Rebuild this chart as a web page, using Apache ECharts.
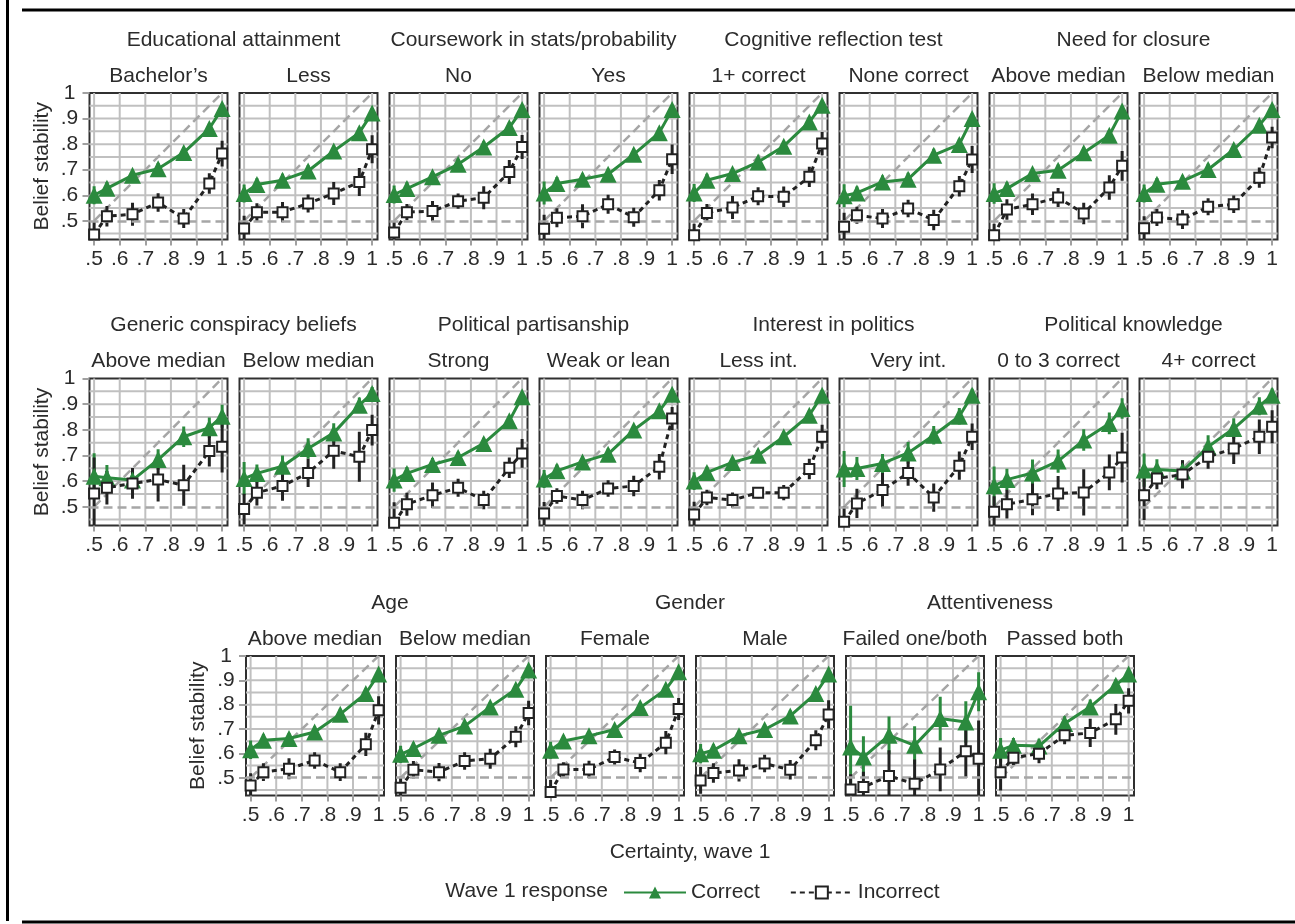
<!DOCTYPE html>
<html><head><meta charset="utf-8">
<script src="https://cdn.jsdelivr.net/npm/echarts@6.0.0/dist/echarts.min.js"></script>
<style>html,body{margin:0;padding:0;background:#fff}#c{width:1295px;height:924px}</style>
</head><body><div id="c"></div><script>
// ---------------- DATA ----------------
const certainty = [0.5, 0.55, 0.65, 0.75, 0.85, 0.95, 1];
const xTickValues = [0.5, 0.6, 0.7, 0.8, 0.9, 1];
const yTickValues = [0.5, 0.6, 0.7, 0.8, 0.9, 1];
const xGridValues = [0.5, 0.6, 0.7, 0.8, 0.9, 1];
const yGridValues = [0.45, 0.55, 0.6, 0.65, 0.7, 0.75, 0.8, 0.85, 0.9, 0.95];
const refDiagonal = [[0.5, 0.5], [1, 1]];
const chanceLevel = 0.5;

const groupTitlesRow1 = ["Educational attainment", "Coursework in stats/probability", "Cognitive reflection test", "Need for closure"];
const groupTitlesRow2 = ["Generic conspiracy beliefs", "Political partisanship", "Interest in politics", "Political knowledge"];
const groupTitlesRow3 = ["Age", "Gender", "Attentiveness"];
const panelLabels = ["Bachelor\u2019s", "Less", "No", "Yes", "1+ correct", "None correct", "Above median", "Below median",
  "Above median", "Below median", "Strong", "Weak or lean", "Less int.", "Very int.", "0 to 3 correct", "4+ correct",
  "Above median", "Below median", "Female", "Male", "Failed one/both", "Passed both"];

// C = correct mean, CE = correct CI half-width, I = incorrect mean, IE = incorrect CI half-width
const P01_C = [0.600, 0.627, 0.678, 0.704, 0.767, 0.861, 0.939];
const P01_CE = [0.035, 0.025, 0.022, 0.022, 0.022, 0.02, 0.015];
const P01_I = [0.447, 0.518, 0.526, 0.572, 0.509, 0.646, 0.763];
const P01_IE = [0.05, 0.04, 0.045, 0.036, 0.037, 0.04, 0.05];

const P02_C = [0.607, 0.642, 0.659, 0.695, 0.773, 0.845, 0.922];
const P02_CE = [0.035, 0.025, 0.025, 0.022, 0.022, 0.02, 0.018];
const P02_I = [0.470, 0.534, 0.534, 0.568, 0.607, 0.652, 0.780];
const P02_IE = [0.05, 0.035, 0.04, 0.035, 0.045, 0.055, 0.055];

const P03_C = [0.603, 0.626, 0.672, 0.721, 0.789, 0.865, 0.935];
const P03_CE = [0.035, 0.025, 0.022, 0.022, 0.022, 0.02, 0.016];
const P03_I = [0.454, 0.534, 0.538, 0.577, 0.590, 0.691, 0.789];
const P03_IE = [0.045, 0.032, 0.04, 0.03, 0.045, 0.047, 0.047];

const P04_C = [0.609, 0.646, 0.663, 0.682, 0.760, 0.845, 0.935];
const P04_CE = [0.045, 0.025, 0.022, 0.022, 0.022, 0.02, 0.016];
const P04_I = [0.469, 0.512, 0.518, 0.565, 0.514, 0.620, 0.741];
const P04_IE = [0.055, 0.037, 0.047, 0.037, 0.037, 0.04, 0.058];

const P05_C = [0.609, 0.659, 0.685, 0.730, 0.792, 0.887, 0.952];
const P05_CE = [0.035, 0.025, 0.022, 0.02, 0.02, 0.018, 0.014];
const P05_I = [0.444, 0.531, 0.552, 0.596, 0.594, 0.672, 0.802];
const P05_IE = [0.045, 0.035, 0.045, 0.035, 0.04, 0.04, 0.045];

const P06_C = [0.598, 0.609, 0.652, 0.663, 0.757, 0.799, 0.900];
const P06_CE = [0.045, 0.025, 0.025, 0.025, 0.025, 0.022, 0.02];
const P06_I = [0.477, 0.522, 0.509, 0.548, 0.503, 0.635, 0.740];
const P06_IE = [0.055, 0.033, 0.037, 0.034, 0.04, 0.04, 0.053];

const P07_C = [0.607, 0.626, 0.685, 0.698, 0.766, 0.835, 0.930];
const P07_CE = [0.04, 0.025, 0.022, 0.022, 0.022, 0.02, 0.016];
const P07_I = [0.444, 0.544, 0.565, 0.591, 0.529, 0.630, 0.715];
const P07_IE = [0.045, 0.04, 0.042, 0.037, 0.042, 0.048, 0.058];

const P08_C = [0.607, 0.643, 0.655, 0.701, 0.779, 0.874, 0.935];
const P08_CE = [0.035, 0.025, 0.022, 0.022, 0.02, 0.018, 0.015];
const P08_I = [0.471, 0.513, 0.505, 0.555, 0.565, 0.669, 0.826];
const P08_IE = [0.047, 0.033, 0.037, 0.033, 0.034, 0.04, 0.042];

const P09_C = [0.619, 0.613, 0.604, 0.684, 0.773, 0.808, 0.853];
const P09_CE = [0.09, 0.05, 0.045, 0.04, 0.04, 0.04, 0.045];
const P09_I = [0.552, 0.574, 0.591, 0.606, 0.584, 0.717, 0.734];
const P09_IE = [0.14, 0.065, 0.06, 0.085, 0.08, 0.06, 0.1];

const P10_C = [0.610, 0.630, 0.658, 0.727, 0.788, 0.896, 0.942];
const P10_CE = [0.065, 0.035, 0.042, 0.04, 0.038, 0.03, 0.025];
const P10_I = [0.491, 0.555, 0.581, 0.632, 0.718, 0.695, 0.799];
const P10_IE = [0.06, 0.05, 0.058, 0.055, 0.07, 0.097, 0.06];

const P11_C = [0.604, 0.630, 0.665, 0.692, 0.747, 0.835, 0.929];
const P11_CE = [0.045, 0.025, 0.025, 0.022, 0.022, 0.02, 0.016];
const P11_I = [0.438, 0.510, 0.545, 0.574, 0.526, 0.652, 0.708];
const P11_IE = [0.08, 0.045, 0.05, 0.035, 0.036, 0.04, 0.056];

const P12_C = [0.608, 0.640, 0.675, 0.705, 0.799, 0.874, 0.939];
const P12_CE = [0.035, 0.025, 0.022, 0.022, 0.02, 0.018, 0.015];
const P12_I = [0.474, 0.542, 0.526, 0.571, 0.581, 0.656, 0.844];
const P12_IE = [0.045, 0.03, 0.036, 0.032, 0.04, 0.05, 0.045];

const P13_C = [0.600, 0.634, 0.673, 0.701, 0.773, 0.857, 0.935];
const P13_CE = [0.035, 0.022, 0.02, 0.02, 0.02, 0.018, 0.014];
const P13_I = [0.470, 0.536, 0.526, 0.555, 0.555, 0.647, 0.773];
const P13_IE = [0.05, 0.03, 0.03, 0.022, 0.03, 0.04, 0.047];

const P14_C = [0.647, 0.649, 0.669, 0.710, 0.779, 0.853, 0.935];
const P14_CE = [0.07, 0.045, 0.037, 0.042, 0.036, 0.032, 0.025];
const P14_I = [0.442, 0.513, 0.565, 0.632, 0.536, 0.660, 0.773];
const P14_IE = [0.06, 0.057, 0.067, 0.05, 0.055, 0.055, 0.052];

const P15_C = [0.582, 0.606, 0.632, 0.678, 0.760, 0.825, 0.883];
const P15_CE = [0.075, 0.042, 0.052, 0.045, 0.042, 0.042, 0.04];
const P15_I = [0.481, 0.510, 0.529, 0.552, 0.556, 0.634, 0.692];
const P15_IE = [0.06, 0.056, 0.062, 0.068, 0.09, 0.07, 0.097];

const P16_C = [0.643, 0.645, 0.639, 0.734, 0.805, 0.892, 0.935];
const P16_CE = [0.065, 0.04, 0.042, 0.045, 0.04, 0.035, 0.026];
const P16_I = [0.545, 0.610, 0.626, 0.695, 0.727, 0.773, 0.812];
const P16_IE = [0.097, 0.042, 0.055, 0.047, 0.06, 0.067, 0.064];

const P17_C = [0.615, 0.654, 0.661, 0.688, 0.761, 0.846, 0.926];
const P17_CE = [0.038, 0.025, 0.022, 0.022, 0.022, 0.02, 0.016];
const P17_I = [0.468, 0.523, 0.537, 0.571, 0.523, 0.637, 0.777];
const P17_IE = [0.05, 0.036, 0.043, 0.034, 0.036, 0.048, 0.058];

const P18_C = [0.596, 0.620, 0.674, 0.712, 0.791, 0.863, 0.942];
const P18_CE = [0.035, 0.025, 0.022, 0.022, 0.02, 0.018, 0.015];
const P18_I = [0.459, 0.533, 0.523, 0.569, 0.578, 0.668, 0.766];
const P18_IE = [0.045, 0.036, 0.037, 0.036, 0.041, 0.043, 0.05];

const P19_C = [0.613, 0.651, 0.672, 0.698, 0.788, 0.863, 0.935];
const P19_CE = [0.035, 0.022, 0.02, 0.02, 0.02, 0.018, 0.014];
const P19_I = [0.441, 0.534, 0.534, 0.585, 0.560, 0.644, 0.782];
const P19_IE = [0.05, 0.03, 0.036, 0.031, 0.038, 0.048, 0.045];

const P20_C = [0.599, 0.613, 0.672, 0.698, 0.754, 0.846, 0.926];
const P20_CE = [0.04, 0.025, 0.022, 0.022, 0.022, 0.02, 0.016];
const P20_I = [0.489, 0.519, 0.530, 0.558, 0.533, 0.654, 0.760];
const P20_IE = [0.055, 0.04, 0.046, 0.036, 0.04, 0.041, 0.058];

const P21_C = [0.626, 0.585, 0.674, 0.633, 0.743, 0.729, 0.853];
const P21_CE = [0.17, 0.085, 0.078, 0.078, 0.09, 0.085, 0.08];
const P21_I = [0.452, 0.462, 0.507, 0.475, 0.534, 0.609, 0.578];
const P21_IE = [0.062, 0.063, 0.106, 0.1, 0.09, 0.11, 0.157];

const P22_C = [0.613, 0.633, 0.630, 0.723, 0.791, 0.880, 0.926];
const P22_CE = [0.05, 0.03, 0.03, 0.03, 0.03, 0.025, 0.02];
const P22_I = [0.523, 0.582, 0.599, 0.674, 0.684, 0.740, 0.816];
const P22_IE = [0.075, 0.03, 0.04, 0.036, 0.058, 0.063, 0.052];

const panelSeries = [
  [P01_C, P01_CE, P01_I, P01_IE], [P02_C, P02_CE, P02_I, P02_IE], [P03_C, P03_CE, P03_I, P03_IE],
  [P04_C, P04_CE, P04_I, P04_IE], [P05_C, P05_CE, P05_I, P05_IE], [P06_C, P06_CE, P06_I, P06_IE],
  [P07_C, P07_CE, P07_I, P07_IE], [P08_C, P08_CE, P08_I, P08_IE], [P09_C, P09_CE, P09_I, P09_IE],
  [P10_C, P10_CE, P10_I, P10_IE], [P11_C, P11_CE, P11_I, P11_IE], [P12_C, P12_CE, P12_I, P12_IE],
  [P13_C, P13_CE, P13_I, P13_IE], [P14_C, P14_CE, P14_I, P14_IE], [P15_C, P15_CE, P15_I, P15_IE],
  [P16_C, P16_CE, P16_I, P16_IE], [P17_C, P17_CE, P17_I, P17_IE], [P18_C, P18_CE, P18_I, P18_IE],
  [P19_C, P19_CE, P19_I, P19_IE], [P20_C, P20_CE, P20_I, P20_IE], [P21_C, P21_CE, P21_I, P21_IE],
  [P22_C, P22_CE, P22_I, P22_IE]
];

// ---------------- STYLE / LAYOUT ----------------
const FONT = '"Liberation Sans", Arial, Helvetica, sans-serif';
const FS = 21;
const TXT = '#2b2b2b';
const GREEN = '#2b8a3e';
const BLACK = '#222222';
const GRIDC = '#c0c0c0';
const REFC = '#a6a6a6';
const PW = 138, STEP = 150;
const X_MIN = 0.482, X_MAX = 1.021, Y_MIN = 0.427, Y_MAX = 1.0;
const rows = [
  { top: 93, height: 146.5, left0: 89.5, n: 8, titles: groupTitlesRow1 },
  { top: 378.5, height: 147, left0: 89.5, n: 8, titles: groupTitlesRow2 },
  { top: 656, height: 139.5, left0: 246, n: 6, titles: groupTitlesRow3 }
];

const fmt = v => { const s = (Math.round(v * 10) / 10).toString(); return s.charAt(0) === '0' ? s.slice(1) : s; };

const grids = [], xAxes = [], yAxes = [], series = [], graphics = [];
let idx = 0;
rows.forEach((row) => {
  row.titles.forEach((t, g) => {
    const l = row.left0 + STEP * 2 * g;
    const cx = (l + l + STEP + PW) / 2;
    graphics.push({ type: 'text', silent: true, style: { x: cx, y: row.top - 53, text: t, textAlign: 'center', textVerticalAlign: 'middle', font: FS + 'px ' + FONT, fill: TXT } });
  });
  for (let j = 0; j < row.n; j++) {
    const i = idx++;
    const left = row.left0 + STEP * j;
    graphics.push({ type: 'text', silent: true, style: { x: left + PW / 2, y: row.top - 17, text: panelLabels[i], textAlign: 'center', textVerticalAlign: 'middle', font: FS + 'px ' + FONT, fill: TXT } });
    grids.push({ left: left, top: row.top, width: PW, height: row.height, show: true, borderColor: '#303030', borderWidth: 2, backgroundColor: '#fff', containLabel: false });
    xAxes.push({
      type: 'value', gridIndex: i, min: X_MIN, max: X_MAX,
      axisLine: { show: false }, splitLine: { show: false },
      axisTick: { show: true, customValues: xTickValues, length: 6, lineStyle: { color: '#a0a0a0', width: 2 } },
      axisLabel: { customValues: xTickValues, formatter: fmt, margin: 9, color: TXT, fontSize: FS, fontFamily: FONT }
    });
    const first = j === 0;
    yAxes.push({
      type: 'value', gridIndex: i, min: Y_MIN, max: Y_MAX,
      axisLine: { show: false }, splitLine: { show: false },
      axisTick: { show: first, customValues: yTickValues, length: 7, lineStyle: { color: '#a0a0a0', width: 2 } },
      axisLabel: { show: first, customValues: yTickValues, formatter: fmt, margin: 20, align: 'center', color: TXT, fontSize: FS, fontFamily: FONT },
      name: first ? 'Belief stability' : '', nameLocation: 'middle', nameGap: 37, nameRotate: 90,
      nameTextStyle: { fontSize: FS, color: TXT, fontFamily: FONT }
    });
    const [C, CE, I, IE] = panelSeries[i];
    // grid lines
    series.push({
      type: 'custom', xAxisIndex: i, yAxisIndex: i, silent: true, z: 1,
      data: xGridValues.map(v => [v, chanceLevel]),
      renderItem: (params, api) => {
        const p = api.coord([api.value(0), api.value(1)]); const cs = params.coordSys;
        return { type: 'line', shape: { x1: p[0], y1: cs.y, x2: p[0], y2: cs.y + cs.height }, style: { stroke: GRIDC, lineWidth: 2 } };
      }
    });
    series.push({
      type: 'custom', xAxisIndex: i, yAxisIndex: i, silent: true, z: 1,
      data: yGridValues.map(v => [0.5, v]),
      renderItem: (params, api) => {
        const p = api.coord([api.value(0), api.value(1)]); const cs = params.coordSys;
        return { type: 'line', shape: { x1: cs.x, y1: p[1], x2: cs.x + cs.width, y2: p[1] }, style: { stroke: GRIDC, lineWidth: 2 } };
      }
    });
    // reference lines
    series.push({
      type: 'line', name: 'ref', xAxisIndex: i, yAxisIndex: i, silent: true, z: 2,
      data: refDiagonal, symbol: 'none',
      lineStyle: { color: REFC, width: 2.5, type: [9, 5] },
      markLine: { silent: true, symbol: ['none', 'none'], label: { show: false },
        lineStyle: { color: REFC, width: 2.5, type: [9, 5] }, data: [{ yAxis: chanceLevel }] }
    });
    // error bars
    const errRender = (color) => (params, api) => {
      const a = api.coord([api.value(0), api.value(1)]);
      const b = api.coord([api.value(0), api.value(2)]);
      return { type: 'line', shape: { x1: a[0], y1: a[1], x2: b[0], y2: b[1] }, style: { stroke: color, lineWidth: 3 } };
    };
    series.push({
      type: 'custom', name: 'ciC', xAxisIndex: i, yAxisIndex: i, silent: true, z: 3, clip: true,
      encode: { x: 0, y: [1, 2] },
      data: certainty.map((x, k) => [x, C[k] - CE[k], C[k] + CE[k]]),
      renderItem: errRender(GREEN)
    });
    series.push({
      type: 'custom', name: 'ciI', xAxisIndex: i, yAxisIndex: i, silent: true, z: 3, clip: true,
      encode: { x: 0, y: [1, 2] },
      data: certainty.map((x, k) => [x, I[k] - IE[k], I[k] + IE[k]]),
      renderItem: errRender(BLACK)
    });
    series.push({
      type: 'line', name: 'Correct', xAxisIndex: i, yAxisIndex: i, z: 4,
      data: certainty.map((x, k) => [x, C[k]]),
      symbol: 'triangle', symbolSize: 17,
      lineStyle: { color: GREEN, width: 3 }, itemStyle: { color: GREEN }
    });
    series.push({
      type: 'line', name: 'Incorrect', xAxisIndex: i, yAxisIndex: i, z: 5,
      data: certainty.map((x, k) => [x, I[k]]),
      symbol: 'rect', symbolSize: 10,
      lineStyle: { color: BLACK, width: 3, type: [5, 4] },
      itemStyle: { color: '#fff', borderColor: BLACK, borderWidth: 2 }
    });
  }
});

// axis title, legend label, frame
graphics.push({ type: 'text', silent: true, style: { x: 690, y: 852, text: 'Certainty, wave 1', textAlign: 'center', textVerticalAlign: 'middle', font: FS + 'px ' + FONT, fill: TXT } });
graphics.push({ type: 'text', silent: true, style: { x: 608, y: 891, text: 'Wave 1 response', textAlign: 'right', textVerticalAlign: 'middle', font: FS + 'px ' + FONT, fill: TXT } });
graphics.push({ type: 'line', silent: true, shape: { x1: 22, y1: 10, x2: 1295, y2: 10 }, style: { stroke: '#000', lineWidth: 3 } });
graphics.push({ type: 'line', silent: true, shape: { x1: 7.5, y1: 0, x2: 7.5, y2: 921 }, style: { stroke: '#000', lineWidth: 3 } });
graphics.push({ type: 'line', silent: true, shape: { x1: 22, y1: 922, x2: 1295, y2: 922 }, style: { stroke: '#000', lineWidth: 3 } });

const chart = echarts.init(document.getElementById('c'), null, { renderer: 'canvas' });
chart.setOption({
  animation: false,
  backgroundColor: '#fff',
  textStyle: { fontFamily: FONT },
  grid: grids, xAxis: xAxes, yAxis: yAxes, series: series,
  legend: {
    data: ['Correct', 'Incorrect'], left: 618, top: 877,
    itemWidth: 62, itemHeight: 15, itemGap: 30,
    textStyle: { fontSize: FS, color: TXT, fontFamily: FONT }
  },
  graphic: { elements: graphics }
});
</script></body></html>
